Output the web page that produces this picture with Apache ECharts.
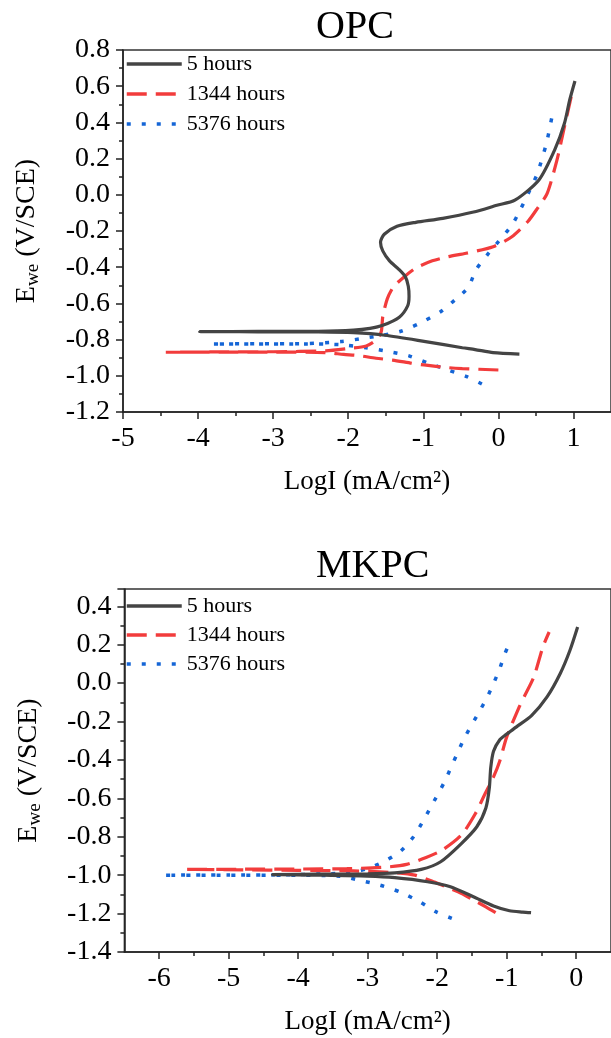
<!DOCTYPE html>
<html><head><meta charset="utf-8">
<script src="https://cdn.jsdelivr.net/npm/echarts@6/dist/echarts.min.js"></script>
<style>html,body{margin:0;padding:0;background:#fff}#c{width:611px;height:1038px}</style>
</head><body><div id="c"></div>
<script>
// ---- data ----
const seriesNames = ['5 hours', '1344 hours', '5376 hours'];
const panelTitles = ['OPC', 'MKPC'];
const opcXTicks = [-5, -4, -3, -2, -1, 0, 1];
const opcXMinor = [-4.5, -3.5, -2.5, -1.5, -0.5, 0.5];
const mkpcXTicks = [-6, -5, -4, -3, -2, -1, 0];
const mkpcXMinor = [-5.5, -4.5, -3.5, -2.5, -1.5, -0.5];

const opc5h = [[0.28,-0.880],[-0.07,-0.872],[-0.31,-0.855],[-0.48,-0.845],[-0.97,-0.811],[-1.51,-0.776],[-1.93,-0.762],[-2.4,-0.758],[-3.2,-0.757],[-3.98,-0.756],[-3.2,-0.755],[-2.4,-0.754],[-1.93,-0.748],[-1.71,-0.738],[-1.54,-0.721],[-1.32,-0.676],[-1.21,-0.615],[-1.19,-0.56],[-1.20,-0.505],[-1.24,-0.452],[-1.33,-0.410],[-1.45,-0.365],[-1.54,-0.31],[-1.57,-0.262],[-1.52,-0.218],[-1.35,-0.174],[-1.10,-0.152],[-0.74,-0.130],[-0.33,-0.095],[-0.02,-0.058],[0.22,-0.03],[0.54,0.082],[0.75,0.248],[0.88,0.395],[0.95,0.524],[1.02,0.629]];
const opc1344h = [[0.0,-0.968],[-0.48,-0.960],[-0.67,-0.955],[-0.99,-0.940],[-1.15,-0.931],[-1.41,-0.913],[-1.63,-0.903],[-1.87,-0.888],[-2.06,-0.882],[-2.3,-0.872],[-3.0,-0.869],[-3.7,-0.869],[-4.43,-0.870],[-3.7,-0.868],[-3.0,-0.867],[-2.3,-0.862],[-2.02,-0.850],[-1.76,-0.835],[-1.62,-0.80],[-1.56,-0.756],[-1.54,-0.673],[-1.48,-0.575],[-1.40,-0.51],[-1.26,-0.455],[-1.10,-0.405],[-0.88,-0.365],[-0.67,-0.342],[-0.43,-0.323],[-0.07,-0.287],[0.18,-0.232],[0.39,-0.149],[0.52,-0.075],[0.65,0.008],[0.78,0.192],[0.88,0.376],[0.97,0.542]];
const opc5376h = [[-0.22,-1.045],[-0.42,-1.005],[-0.67,-0.968],[-0.93,-0.931],[-1.19,-0.89],[-1.45,-0.867],[-1.76,-0.845],[-2.1,-0.828],[-2.6,-0.824],[-3.2,-0.824],[-3.82,-0.824],[-3.2,-0.823],[-2.6,-0.822],[-2.1,-0.811],[-1.76,-0.790],[-1.54,-0.776],[-1.30,-0.754],[-1.06,-0.712],[-0.77,-0.646],[-0.58,-0.581],[-0.40,-0.511],[-0.30,-0.415],[-0.15,-0.333],[0.0,-0.259],[0.18,-0.167],[0.29,-0.084],[0.42,0.027],[0.52,0.119],[0.64,0.285],[0.71,0.423]];

const mkpc5h = [[-0.65,-1.195],[-0.77,-1.192],[-0.96,-1.185],[-1.19,-1.160],[-1.48,-1.112],[-1.81,-1.06],[-2.14,-1.034],[-2.61,-1.013],[-3.0,-1.005],[-3.7,-1.0],[-4.37,-0.997],[-3.7,-0.995],[-3.0,-0.993],[-2.61,-0.988],[-2.23,-0.970],[-1.95,-0.930],[-1.66,-0.838],[-1.43,-0.748],[-1.30,-0.650],[-1.25,-0.545],[-1.23,-0.440],[-1.19,-0.355],[-1.10,-0.295],[-1.01,-0.268],[-0.86,-0.228],[-0.64,-0.168],[-0.42,-0.072],[-0.23,0.050],[-0.09,0.171],[0.02,0.292]];
const mkpc1344h = [[-1.16,-1.195],[-1.30,-1.165],[-1.45,-1.135],[-1.70,-1.087],[-2.04,-1.036],[-2.32,-1.0],[-2.7,-0.985],[-3.2,-0.978],[-4.0,-0.975],[-4.8,-0.972],[-5.61,-0.970],[-4.8,-0.969],[-4.0,-0.968],[-3.3,-0.966],[-2.74,-0.958],[-2.44,-0.944],[-2.16,-0.908],[-1.93,-0.870],[-1.65,-0.79],[-1.45,-0.679],[-1.31,-0.575],[-1.19,-0.488],[-1.10,-0.405],[-1.0,-0.28],[-0.82,-0.124],[-0.75,-0.072],[-0.61,0.032],[-0.48,0.188],[-0.39,0.266]];
const mkpc5376h = [[-1.79,-1.225],[-2.02,-1.19],[-2.25,-1.139],[-2.52,-1.09],[-2.82,-1.052],[-3.1,-1.028],[-3.4,-1.005],[-4.2,-1.0],[-5.0,-1.0],[-5.94,-1.0],[-5.0,-0.999],[-4.2,-0.998],[-3.4,-0.99],[-3.13,-0.978],[-2.93,-0.956],[-2.72,-0.92],[-2.52,-0.873],[-2.34,-0.80],[-2.21,-0.722],[-2.09,-0.644],[-1.90,-0.517],[-1.71,-0.365],[-1.60,-0.28],[-1.41,-0.158],[-1.29,-0.08],[-1.19,-0.002],[-1.10,0.076],[-1.03,0.15],[-0.95,0.215]];

// ---- styling ----
const FF = "'Liberation Serif','Times New Roman',serif";
const AX = '#222';
const styles = [
  {color:'#444444', width:3.2, type:'solid'},
  {color:'#f23c3c', width:3.2, type:[20,9]},
  {color:'#1565d6', width:3.5, type:[4,11]}
];
const fmt1 = v => Math.abs(v) < 1e-9 ? '0.0' : v.toFixed(1);

function mainX(grid, min, max, ticks) {
  return {type:'value', gridIndex:grid, position:'bottom', min:min, max:max,
    name:'LogI (mA/cm²)', nameLocation:'middle', nameGap:56,
    nameTextStyle:{fontFamily:FF, fontSize:27, color:'#000'},
    axisLine:{onZero:false, lineStyle:{color:AX, width:1.5}},
    axisTick:{show:true, inside:false, length:7, customValues:ticks, lineStyle:{color:AX, width:1.5}},
    axisLabel:{customValues:ticks, margin:13, fontFamily:FF, fontSize:28, color:'#000', formatter: v => String(v)},
    splitLine:{show:false}};
}
function minorX(grid, min, max, ticks) {
  return {type:'value', gridIndex:grid, position:'bottom', min:min, max:max,
    axisLine:{show:false, onZero:false},
    axisTick:{show:true, inside:false, length:4, customValues:ticks, lineStyle:{color:AX, width:1.5}},
    axisLabel:{show:false}, splitLine:{show:false}};
}
function mainY(grid, min, max) {
  return {type:'value', gridIndex:grid, position:'left', min:min, max:max, interval:0.2,
    name:'{a|E}{b|we}{a| (V/SCE)}', nameLocation:'middle', nameGap:80, nameRotate:90,
    nameTextStyle:{rich:{a:{fontFamily:FF, fontSize:28, color:'#000'}, b:{fontFamily:FF, fontSize:19, color:'#000', padding:[13,0,0,0]}}},
    axisLine:{onZero:false, lineStyle:{color:AX, width:1.5}},
    axisTick:{show:true, inside:false, length:7, lineStyle:{color:AX, width:1.5}},
    minorTick:{show:true, splitNumber:2, length:4, lineStyle:{color:AX, width:1.5}},
    axisLabel:{margin:13, fontFamily:FF, fontSize:28, color:'#000', formatter:fmt1, showMaxLabel: max > 0.6},
    splitLine:{show:false}, minorSplitLine:{show:false}};
}
function mk(name, data, i, g) {
  const s = styles[i];
  return {name:name, type:'line', xAxisIndex:g, yAxisIndex:g, data:data, symbol:'none',
    smooth:0.25, color:s.color, lineStyle:{color:s.color, width:s.width, type:s.type, cap:'butt'}, z:5 - i};
}
function legend(top, gap) {
  return {orient:'vertical', left:125, top:top, padding:0, itemGap:gap, itemWidth:55, itemHeight:14,
    selectedMode:false, data:seriesNames, itemStyle:{opacity:0}, lineStyle:{width:3.5},
    textStyle:{fontFamily:FF, fontSize:22, color:'#000'}};
}

const chart = echarts.init(document.getElementById('c'));
chart.setOption({
  animation:false,
  backgroundColor:'#fff',
  textStyle:{fontFamily:FF},
  title:[
    {text:panelTitles[0], left:316, top:7, padding:0, textStyle:{fontFamily:FF, fontWeight:'normal', fontSize:40, color:'#000'}},
    {text:panelTitles[1], left:316, top:546, padding:0, textStyle:{fontFamily:FF, fontWeight:'normal', fontSize:40, color:'#000'}}
  ],
  legend:[legend(53, 8), legend(595, 7)],
  grid:[
    {left:123, top:50, width:495, height:362, show:true, borderColor:'#333', borderWidth:1.5, backgroundColor:'transparent'},
    {left:124.4, top:589, width:495.4, height:363, show:true, borderColor:'#333', borderWidth:1.5, backgroundColor:'transparent'}
  ],
  xAxis:[
    mainX(0, -5, 1.5, opcXTicks), mainX(1, -6.5, 0.5, mkpcXTicks),
    minorX(0, -5, 1.5, opcXMinor), minorX(1, -6.5, 0.5, mkpcXMinor)
  ],
  yAxis:[mainY(0, -1.2, 0.8), mainY(1, -1.4, 0.49)],
  series:[
    mk(seriesNames[0], opc5h, 0, 0), mk(seriesNames[1], opc1344h, 1, 0), mk(seriesNames[2], opc5376h, 2, 0),
    mk(seriesNames[0], mkpc5h, 0, 1), mk(seriesNames[1], mkpc1344h, 1, 1), mk(seriesNames[2], mkpc5376h, 2, 1)
  ]
});
</script></body></html>
